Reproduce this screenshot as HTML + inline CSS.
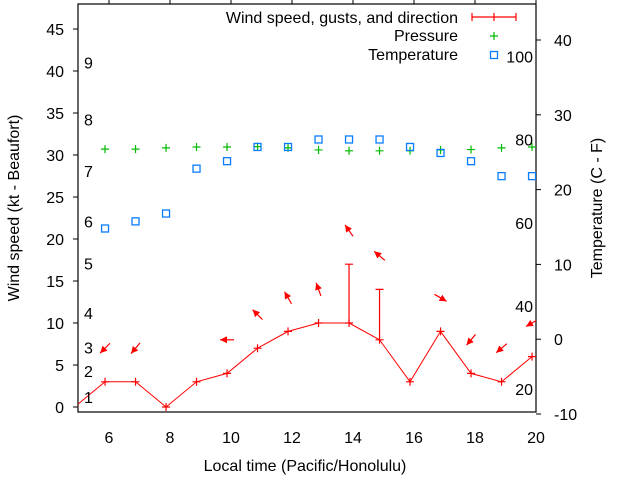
<!DOCTYPE html>
<html><head><meta charset="utf-8">
<style>
html,body{margin:0;padding:0;background:#fff;}
svg{display:block;font-family:"Liberation Sans",sans-serif;}
</style></head>
<body>
<svg id="chart" width="640" height="480" viewBox="0 0 640 480" xmlns="http://www.w3.org/2000/svg">
<defs><clipPath id="clip"><rect x="78" y="4" width="458" height="408"/></clipPath></defs>
<g id="grid"></g>
<g id="plot" clip-path="url(#clip)"></g>
<g id="labels"></g>
</svg>
<script>
const times = [4.87,5.87,6.87,7.87,8.87,9.87,10.87,11.87,12.87,13.87,14.87,15.87,16.87,17.87,18.87,19.87];
const windSpeed = [0,3,3,0,3,4,7,9,10,10,8,3,9,4,3,6];
const windGust = [null,null,null,null,null,null,null,null,null,17,14,null,null,null,null,null];
const windDir = [null,45,40,null,null,90,135,150,160,145,130,null,300,40,50,60];
const pressureScaled = [null,30.7,30.7,30.85,30.95,30.95,31.0,30.85,30.6,30.5,30.5,30.5,30.6,30.65,30.85,30.95];
const temperatureC = [null,14.8,15.75,16.8,22.8,23.8,25.7,25.7,26.7,26.7,26.7,25.7,24.9,23.8,21.8,21.8];
const xTicks = [6,8,10,12,14,16,18,20];
const yTicks = [0,5,10,15,20,25,30,35,40,45];
const y2Ticks = [-10,0,10,20,30,40];
const fTicks = [20,40,60,80,100];
const beaufortLabels = ["1","2","3","4","5","6","7","8","9"];
const beaufortKt = [1.2,4.3,7.1,11.2,17.1,22.1,28.1,34.2,41];

const NS="http://www.w3.org/2000/svg";
const L=78,R=536,T=4,B=412;
const FS=16;
const sx=t=>78.5+(t-5)*30.5;
const sy=v=>407-v*8.4;
const sy2=c=>414-(c+10)*7.48;
function mk(tag,attrs,parent,text){const e=document.createElementNS(NS,tag);for(const k in attrs)e.setAttribute(k,attrs[k]);if(text!==undefined)e.textContent=text;parent.appendChild(e);return e;}
const grid=document.getElementById('grid'),plot=document.getElementById('plot'),lab=document.getElementById('labels');

let frame=mk('rect',{x:L,y:T,width:R-L,height:B-T,fill:'none',stroke:'#000','stroke-width':1.2},grid);


xTicks.forEach(t=>{const x=sx(t);
 let tk=mk('line',{x1:x,x2:x,y1:0,y2:T,stroke:'#000'},grid);
 
 let tl=mk('text',{x:x,y:443,'font-size':FS,'text-anchor':'middle',fill:'#000'},lab,String(t));
 });
yTicks.forEach(v=>{const y=sy(v);
 let tk=mk('line',{x1:73,x2:L,y1:y,y2:y,stroke:'#000'},grid);
 
 let tl=mk('text',{x:64,y:y+6,'font-size':FS,'text-anchor':'end',fill:'#000'},lab,String(v));
 });
y2Ticks.forEach(c=>{const y=sy2(c);
 let tk=mk('line',{x1:R,x2:541,y1:y,y2:y,stroke:'#000'},grid);
 
 let tl=mk('text',{x:554,y:y+6,'font-size':FS,'text-anchor':'start',fill:'#000'},lab,String(c));
 });
fTicks.forEach(f=>{const y=sy2((f-32)*5/9);
 let tl=mk('text',{x:533,y:y+6,'font-size':FS,'text-anchor':'end',fill:'#000'},lab,String(f));
 });
beaufortLabels.forEach((b,i)=>{
 let tl=mk('text',{x:84,y:sy(beaufortKt[i])+6,'font-size':FS,fill:'#000'},lab,b);
 });

let t1=mk('text',{x:0,y:0,'font-size':FS,'text-anchor':'middle',transform:'translate(19,208) rotate(-90)',fill:'#000'},lab,'Wind speed (kt - Beaufort)');

let t2=mk('text',{x:0,y:0,'font-size':FS,'text-anchor':'middle',transform:'translate(602,208) rotate(-90)',fill:'#000'},lab,'Temperature (C - F)');

let t3=mk('text',{x:305,y:471,'font-size':FS,'text-anchor':'middle',fill:'#000'},lab,'Local time (Pacific/Honolulu)');


let pts=times.map((t,i)=>sx(t)+','+sy(windSpeed[i])).join(' ');
let wl=mk('polyline',{points:pts,fill:'none',stroke:'#f00','stroke-width':1},plot);

function plus(x,y,c,g,name){
 let p=mk('path',{d:`M${x-4},${y}h8M${x},${y-4}v8`,stroke:c,'stroke-width':1.2},g);
 }
times.forEach((t,i)=>{
 const x=sx(t),y=sy(windSpeed[i]);
 plus(x,y,'#f00',plot,'wind-speed-point');
 if(windGust[i]!=null){const gy=sy(windGust[i]);
  let e=mk('path',{d:`M${x},${y}V${gy}M${x-4},${gy}h8`,stroke:'#f00','stroke-width':1.2},plot);
  }
 if(windDir[i]!=null){
  const top=Math.max(windSpeed[i],windGust[i]||0)+4;
  const cx=x,cy=sy(top);
  const a=(windDir[i]+180)*Math.PI/180;const dx=Math.sin(a),dy=-Math.cos(a);
  const x1=cx-dx*7,y1=cy-dy*7,x2=cx+dx*7,y2=cy+dy*7;
  const px=-dy,py=dx;
  const hx=x2-dx*7,hy=y2-dy*7;
  let ar=mk('g',{},plot);
  
  mk('line',{x1:x1,y1:y1,x2:x2,y2:y2,stroke:'#f00','stroke-width':1.2},ar);
  mk('polygon',{points:`${x2},${y2} ${hx+px*3.5},${hy+py*3.5} ${hx-px*3.5},${hy-py*3.5}`,fill:'#f00'},ar);
 }
 if(pressureScaled[i]!=null) plus(x,sy(pressureScaled[i]),'#0b0',plot,'pressure-point');
 if(temperatureC[i]!=null){
  let s=mk('rect',{x:x-3.5,y:sy2(temperatureC[i])-3.5,width:7,height:7,fill:'none',stroke:'#0a7cff','stroke-width':1.3},plot);
  }
});

const leg=mk('g',{},lab);
[['Wind speed, gusts, and direction',23],['Pressure',41],['Temperature',60]].forEach((r,i)=>{
 let tx=mk('text',{x:458,y:r[1],'font-size':FS,'text-anchor':'end',fill:'#000'},leg,r[0]);
 });
mk('path',{d:'M472,17H516M472,13v8M516,13v8M494,13v8',stroke:'#f00','stroke-width':1.2},leg);
mk('path',{d:'M490,36h8M494,32v8',stroke:'#0b0','stroke-width':1.2},leg);
mk('rect',{x:490.5,y:51.5,width:7,height:7,fill:'none',stroke:'#0a7cff','stroke-width':1.3},leg);
</script>
</body></html>
